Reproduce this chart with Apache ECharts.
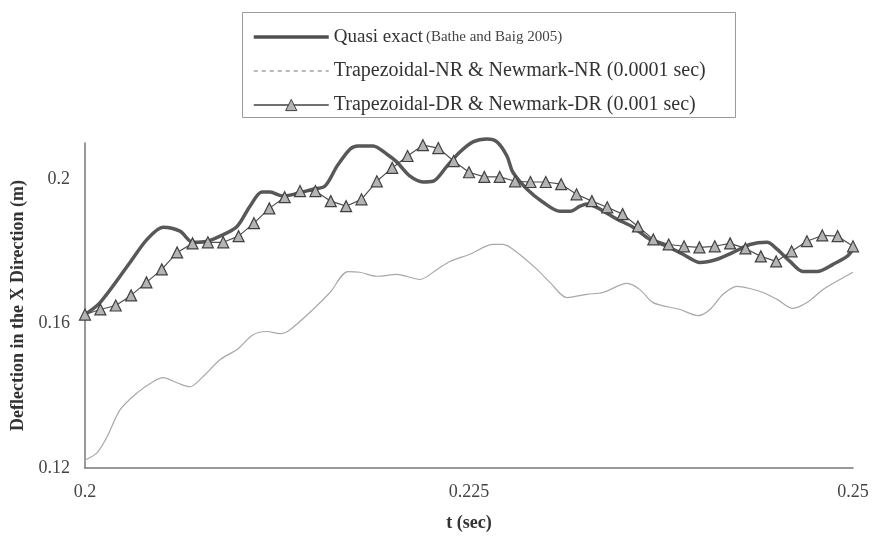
<!DOCTYPE html>
<html>
<head>
<meta charset="utf-8">
<script src="https://cdn.jsdelivr.net/npm/echarts@6/dist/echarts.min.js"></script>
<style>
html,body{margin:0;padding:0;background:#fff;}
#chart{width:878px;height:543px;}
</style>
</head>
<body>
<div id="chart"></div>
<script>
// ---- Data ----
const seriesNames = [
  'Quasi exact (Bathe and Baig 2005)',
  'Trapezoidal-NR & Newmark-NR (0.0001 sec)',
  'Trapezoidal-DR & Newmark-DR (0.001 sec)'
];
const xTickLabels = ['0.2', '0.225', '0.25'];
const yTickLabels = ['0.12', '0.16', '0.2'];

// Quasi exact
const qeT = [0.2, 0.20098, 0.20293, 0.20404, 0.20508, 0.20618, 0.20703, 0.20794, 0.20879, 0.2099, 0.21074, 0.21152, 0.21204, 0.21289, 0.21484, 0.21563, 0.21641, 0.21725, 0.21777, 0.21875, 0.21966, 0.22031, 0.22116, 0.22201, 0.22266, 0.22357, 0.22441, 0.22526, 0.22617, 0.22682, 0.22747, 0.22786, 0.22878, 0.22982, 0.23092, 0.23158, 0.23223, 0.23268, 0.23353, 0.23464, 0.23568, 0.23678, 0.23789, 0.23893, 0.24004, 0.24115, 0.24219, 0.24329, 0.2444, 0.24505, 0.2459, 0.24674, 0.24766, 0.2487, 0.24961, 0.25];
const qeV = [0.1625, 0.1658, 0.1769, 0.1833, 0.1867, 0.1856, 0.1825, 0.1828, 0.1842, 0.1869, 0.1925, 0.1964, 0.1964, 0.1953, 0.1972, 0.1981, 0.2036, 0.2083, 0.2092, 0.2092, 0.2069, 0.2047, 0.2008, 0.1992, 0.1994, 0.2036, 0.2075, 0.2103, 0.2111, 0.2103, 0.2064, 0.2019, 0.1972, 0.1936, 0.1911, 0.1911, 0.1925, 0.1931, 0.1917, 0.1889, 0.1867, 0.1833, 0.1814, 0.1792, 0.1769, 0.1778, 0.1797, 0.1819, 0.1825, 0.1806, 0.1772, 0.1744, 0.1744, 0.1764, 0.1786, 0.1806];

// Trapezoidal-NR & Newmark-NR (0.0001 sec)
const nrT = [0.2, 0.20078, 0.20143, 0.20228, 0.20339, 0.20443, 0.20508, 0.20599, 0.20684, 0.20768, 0.20879, 0.2099, 0.21094, 0.21185, 0.2127, 0.21335, 0.21484, 0.21595, 0.21712, 0.2179, 0.21901, 0.22031, 0.22181, 0.22292, 0.22376, 0.22507, 0.22656, 0.22721, 0.22813, 0.22943, 0.23027, 0.23138, 0.23268, 0.23372, 0.23529, 0.23613, 0.23698, 0.23874, 0.23991, 0.24069, 0.24154, 0.24245, 0.24329, 0.24414, 0.24505, 0.24609, 0.247, 0.24805, 0.24915, 0.25];
const nrV = [0.1222, 0.1242, 0.1286, 0.1361, 0.1408, 0.1439, 0.1450, 0.1436, 0.1425, 0.1453, 0.1500, 0.1528, 0.1569, 0.1578, 0.1572, 0.1583, 0.1639, 0.1686, 0.1744, 0.1742, 0.1731, 0.1736, 0.1722, 0.1750, 0.1772, 0.1792, 0.1819, 0.1819, 0.1797, 0.1750, 0.1714, 0.1672, 0.1681, 0.1686, 0.1711, 0.1694, 0.1658, 0.1639, 0.1622, 0.1639, 0.1681, 0.1703, 0.1697, 0.1686, 0.1667, 0.1642, 0.1658, 0.1694, 0.1722, 0.1742];

// Trapezoidal-DR & Newmark-DR (0.001 sec)
const drT = [0.200, 0.201, 0.202, 0.203, 0.204, 0.205, 0.206, 0.207, 0.208, 0.209, 0.210, 0.211, 0.212, 0.213, 0.214, 0.215, 0.216, 0.217, 0.218, 0.219, 0.220, 0.221, 0.222, 0.223, 0.224, 0.225, 0.226, 0.227, 0.228, 0.229, 0.230, 0.231, 0.232, 0.233, 0.234, 0.235, 0.236, 0.237, 0.238, 0.239, 0.240, 0.241, 0.242, 0.243, 0.244, 0.245, 0.246, 0.247, 0.248, 0.249, 0.250];
const drV = [0.1625, 0.1639, 0.1650, 0.1678, 0.1714, 0.1750, 0.1797, 0.1822, 0.1825, 0.1825, 0.1842, 0.1878, 0.1919, 0.1950, 0.1967, 0.1967, 0.1939, 0.1925, 0.1944, 0.1994, 0.2031, 0.2064, 0.2094, 0.2086, 0.2050, 0.2019, 0.2006, 0.2006, 0.1994, 0.1992, 0.1992, 0.1986, 0.1958, 0.1939, 0.1922, 0.1903, 0.1869, 0.1833, 0.1819, 0.1814, 0.1811, 0.1814, 0.1822, 0.1808, 0.1786, 0.1772, 0.1800, 0.1828, 0.1844, 0.1842, 0.1814];

// ---- Chart ----
const serif = '"Liberation Serif", "Times New Roman", serif';
const pair = (ts, vs) => ts.map((t, i) => [t, vs[i]]);

const chart = echarts.init(document.getElementById('chart'), null, {renderer: 'canvas'});
chart.setOption({
  animation: false,
  backgroundColor: '#ffffff',
  grid: {left: 85, right: 25, top: 143, bottom: 75},
  graphic: [{
    type: 'rect', left: 242, top: 12, z: 0,
    shape: {width: 493, height: 105},
    style: {fill: '#ffffff', stroke: '#9a9a9a', lineWidth: 1}
  }],
  legend: {
    orient: 'vertical',
    left: 247, top: 21,
    itemWidth: 75, itemHeight: 14, itemGap: 12,
    z: 5,
    data: [
      {name: seriesNames[0], itemStyle: {opacity: 0, borderWidth: 0}, lineStyle: {color: '#505050', width: 3.5}},
      {name: seriesNames[1], itemStyle: {opacity: 0, borderWidth: 0}, lineStyle: {type: [4, 4], color: '#777', width: 1}},
      {name: seriesNames[2], itemStyle: {color: '#b4b4b4', borderColor: '#404040', borderWidth: 1}, lineStyle: {color: '#404040', width: 1.5}}
    ],
    formatter: function (name) {
      if (name === seriesNames[0]) {
        return '{a|Quasi exact} {b|(Bathe and Baig 2005)}';
      }
      return '{c|' + name + '}';
    },
    textStyle: {
      color: '#333',
      fontFamily: serif,
      lineHeight: 22,
      rich: {
        a: {fontFamily: serif, fontSize: 19, color: '#333', lineHeight: 22},
        b: {fontFamily: serif, fontSize: 15, color: '#444', lineHeight: 22},
        c: {fontFamily: serif, fontSize: 20, color: '#333', lineHeight: 22}
      }
    }
  },
  xAxis: {
    type: 'value',
    min: 0.2, max: 0.25, interval: 0.025,
    name: 't (sec)',
    nameLocation: 'middle',
    nameGap: 46,
    nameTextStyle: {fontFamily: serif, fontSize: 18, fontWeight: 'bold', color: '#333'},
    axisLine: {show: true, onZero: false, lineStyle: {color: '#777', width: 1.5}},
    axisTick: {show: false},
    splitLine: {show: false},
    axisLabel: {
      fontFamily: serif, fontSize: 18, color: '#444', margin: 15,
      formatter: function (v) {
        const i = Math.round((v - 0.2) / 0.025);
        return xTickLabels[i] !== undefined ? xTickLabels[i] : '';
      }
    }
  },
  yAxis: {
    type: 'value',
    min: 0.12, max: 0.21, interval: 0.04,
    name: 'Deflection in the X Direction (m)',
    nameLocation: 'middle',
    nameGap: 48,
    nameTextStyle: {fontFamily: serif, fontSize: 18, fontWeight: 'bold', color: '#333'},
    axisLine: {show: true, onZero: false, lineStyle: {color: '#777', width: 1.5}},
    axisTick: {show: false},
    splitLine: {show: false},
    axisLabel: {
      fontFamily: serif, fontSize: 18, color: '#444', margin: 15,
      showMaxLabel: false,
      formatter: function (v) {
        const i = Math.round((v - 0.12) / 0.04);
        if (Math.abs(v - (0.12 + i * 0.04)) > 1e-6) return '';
        return yTickLabels[i] !== undefined ? yTickLabels[i] : '';
      }
    }
  },
  series: [
    {
      name: seriesNames[0],
      type: 'line',
      data: pair(qeT, qeV),
      smooth: 0.3,
      showSymbol: false,
      symbol: 'none',
      clip: false,
      lineStyle: {color: '#585858', width: 3.5},
      itemStyle: {color: '#585858'},
      z: 2
    },
    {
      name: seriesNames[1],
      type: 'line',
      data: pair(nrT, nrV),
      smooth: 0.3,
      showSymbol: false,
      symbol: 'none',
      lineStyle: {color: '#a8a8a8', width: 1.2},
      itemStyle: {color: '#a8a8a8'},
      z: 2
    },
    {
      name: seriesNames[2],
      type: 'line',
      data: pair(drT, drV),
      symbol: 'triangle',
      symbolSize: 11,
      showSymbol: true,
      clip: false,
      lineStyle: {color: '#505050', width: 1.2},
      itemStyle: {color: '#b4b4b4', borderColor: '#404040', borderWidth: 1.2},
      z: 3
    }
  ]
});
</script>
</body>
</html>
